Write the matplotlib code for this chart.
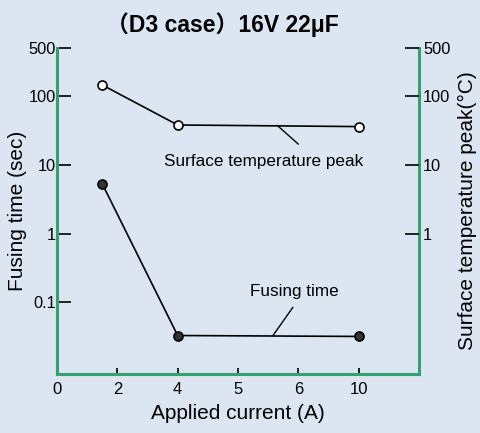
import numpy as np
import matplotlib
matplotlib.use('agg')
import matplotlib.pyplot as plt

# x axis is categorical: evenly spaced current labels
x_tick_labels = [0, 2, 4, 5, 6, 10]
y_ticks_left = [0.1, 1, 10, 100, 500]
y_ticks_right = [1, 10, 100, 500]

current = [1.5, 4, 10]
fusing_time = [5.3, 0.033, 0.032]
temp_peak = [145, 38, 36]

bg = '#dce6f2'
green = '#3a9f6e'

plt.rcParams['font.family'] = ['Liberation Sans', 'Noto Sans CJK JP', 'DejaVu Sans']

x_pos = np.arange(len(x_tick_labels))
xc = np.interp(current, x_tick_labels, x_pos)

fig = plt.figure(figsize=(4.81, 4.33), dpi=100, facecolor=bg)
ax = fig.add_axes([57/481, 1 - 374/433, (419-57)/481, (374-48)/433])
ax.set_facecolor(bg)

ax.plot(xc, temp_peak, '-', color='black', lw=1.2, marker='o', ms=6.5,
        mfc='white', mec='black', mew=1.2, zorder=3)
ax.plot(xc, fusing_time, '-', color='black', lw=1.2, marker='o', ms=6.5,
        mfc='#333333', mec='black', mew=1.2, zorder=3)

ax.set_yscale('log')
ax.set_ylim(0.0091, 500)
ax.set_xlim(0, 6)

ax.set_xticks(x_pos)
ax.set_xticklabels([str(v) for v in x_tick_labels])
ax.set_yticks(y_ticks_left)
ax.set_yticklabels(['0.1', '1', '10', '100', '500'])
ax.yaxis.set_minor_locator(matplotlib.ticker.NullLocator())

ax.tick_params(axis='y', direction='in', length=10, width=1.2, pad=1,
               labelsize=11.8, color='black')
ax.tick_params(axis='x', direction='in', length=4, width=1.2, pad=6,
               labelsize=12, color='black')

for side in ['left', 'right', 'bottom']:
    ax.spines[side].set_color(green)
    ax.spines[side].set_linewidth(2.2)
ax.spines['top'].set_visible(False)

ax2 = ax.twinx()
ax2.set_yscale('log')
ax2.set_ylim(ax.get_ylim())
ax2.set_yticks(y_ticks_right)
ax2.set_yticklabels(['1', '10', '100', '500'])
ax2.yaxis.set_minor_locator(matplotlib.ticker.NullLocator())
ax2.tick_params(axis='y', direction='in', length=10, width=1.2, pad=3,
                labelsize=11.8, color='black')
for side in ['left', 'right', 'bottom', 'top']:
    ax2.spines[side].set_visible(False)

ax.set_xlabel('Applied current (A)', fontsize=15, labelpad=5)
ax.set_ylabel('Fusing time (sec)', fontsize=15, labelpad=1)
ax2.set_ylabel('Surface temperature peak(°C)', fontsize=15, labelpad=5)

# series labels with leader lines
leader = dict(arrowstyle='-', color='black', lw=1.0, shrinkA=0, shrinkB=0)
ax.annotate('', xy=(3.65, 37.5), xytext=(4.0, 20), arrowprops=leader)
ax.text(3.43, 11.3, 'Surface temperature peak', fontsize=12.3,
        ha='center', va='center')
ax.annotate('', xy=(3.58, 0.033), xytext=(3.91, 0.085), arrowprops=leader)
ax.text(3.93, 0.145, 'Fusing time', fontsize=12.3, ha='center', va='center')

fig.text(222/481, 1 - 25/433, '（D3 case）16V 22μF', fontsize=16.5,
         fontweight='bold', ha='center', va='center')

fig.savefig('out.png', dpi=100, facecolor=bg)
